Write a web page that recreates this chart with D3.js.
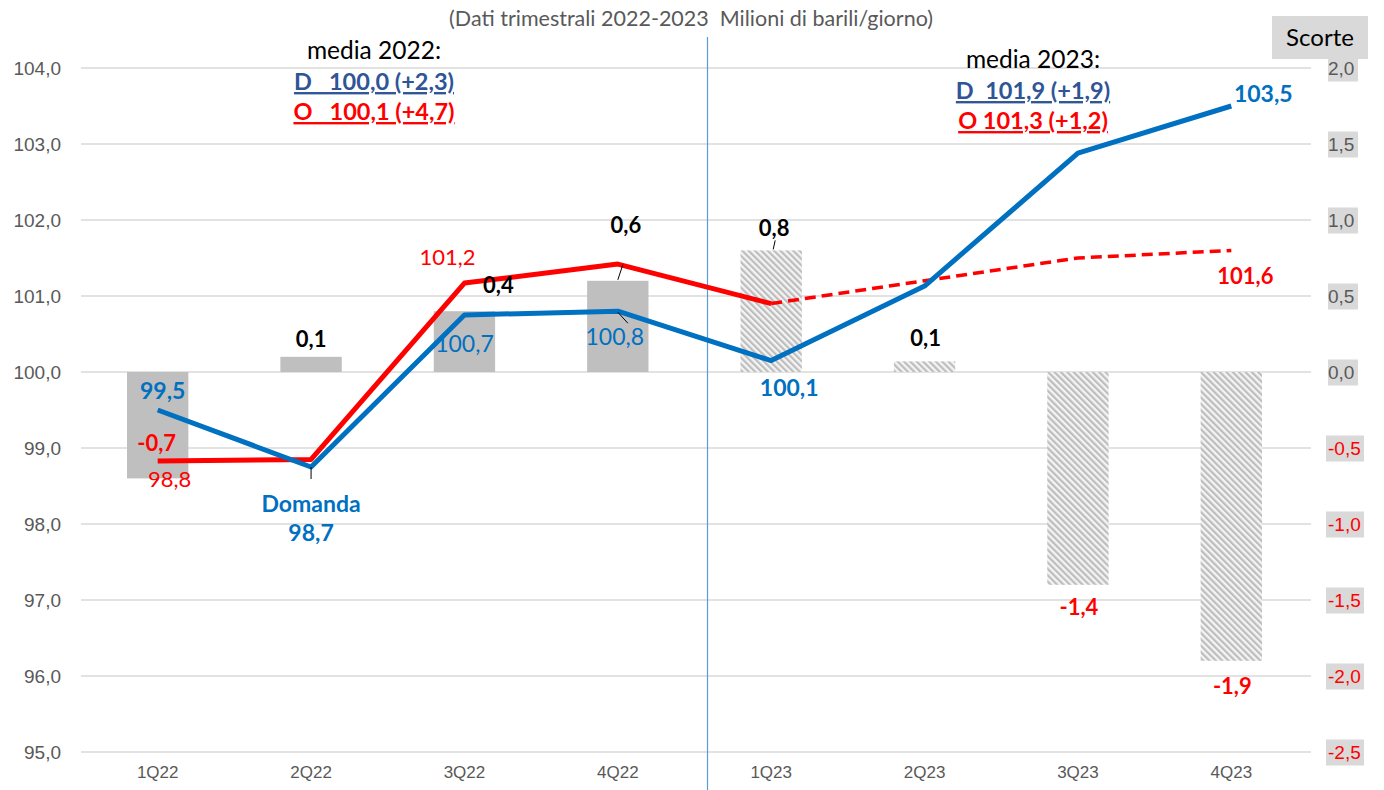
<!DOCTYPE html>
<html>
<head>
<meta charset="utf-8">
<script src="https://cdn.jsdelivr.net/npm/d3@7"></script>
<style>
  body { margin: 0; background: #fff; }
  svg { font-family: Lato, "Open Sans", sans-serif; }
  text { white-space: pre; }
</style>
</head>
<body>
<div id="chart"></div>
<script>
// data
var quarters = ["1Q22", "2Q22", "3Q22", "4Q22", "1Q23", "2Q23", "3Q23", "4Q23"];
var domanda = [99.5, 98.75, 100.75, 100.8, 100.15, 101.13, 102.88, 103.5];
var offerta = [98.83, 98.85, 101.17, 101.42, 100.9, 101.2, 101.5, 101.6];
var scorte = [-0.7, 0.1, 0.4, 0.6, 0.8, 0.07, -1.4, -1.9];
var leftTicks = [95, 96, 97, 98, 99, 100, 101, 102, 103, 104];
var rightTicks = [-2.5, -2.0, -1.5, -1.0, -0.5, 0.0, 0.5, 1.0, 1.5, 2.0];

var W = 1384, H = 790;
var margin = {top: 68, right: 76, bottom: 38, left: 81};
var fmt = d3.format(".1f");
function it(v) { return fmt(v).replace(".", ",").replace("\u2212", "-"); }

var svg = d3.select("#chart").append("svg")
  .attr("width", W).attr("height", H);

// hatch pattern for 2023 bars
var pat = svg.append("defs").append("pattern")
  .attr("id", "hatch")
  .attr("patternUnits", "userSpaceOnUse")
  .attr("width", 4.5).attr("height", 4.5)
  .attr("patternTransform", "rotate(-45)");
pat.append("rect").attr("width", 4.5).attr("height", 4.5).attr("fill", "#f4f4f4");
pat.append("rect").attr("width", 2.2).attr("height", 4.5).attr("fill", "#bdbdbd");

var x = d3.scaleBand()
  .domain(quarters)
  .range([margin.left, W - margin.right])
  .paddingInner(0.6).paddingOuter(0.3);
var xc = d => x(d) + x.bandwidth() / 2;

var y = d3.scaleLinear().domain([95, 104]).range([H - margin.bottom, margin.top]);
var y2 = d3.scaleLinear().domain([-2.5, 2.0]).range([H - margin.bottom, margin.top]);

// gridlines
svg.append("g").selectAll("line").data(leftTicks).join("line")
  .attr("x1", margin.left).attr("x2", W - margin.right + 3)
  .attr("y1", d => y(d)).attr("y2", d => y(d))
  .attr("stroke", "#d9d9d9").attr("stroke-width", 1.5);

// left axis
var gl = svg.append("g")
  .attr("transform", "translate(" + margin.left + ",0)")
  .call(d3.axisLeft(y).tickValues(leftTicks).tickFormat(it).tickSize(0).tickPadding(20));
gl.select(".domain").remove();
gl.selectAll("text").attr("fill", "#595959").style("font-size", "19px");

// right axis
var gr = svg.append("g")
  .attr("transform", "translate(" + (W - margin.right + 18) + ",0)")
  .call(d3.axisRight(y2).tickValues(rightTicks).tickFormat(it).tickSize(0).tickPadding(0));
gr.select(".domain").remove();
gr.selectAll(".tick").each(function (d) {
  var t = d3.select(this);
  t.insert("rect", "text")
    .attr("x", d < 0 ? 0 : 2).attr("y", -13)
    .attr("width", d < 0 ? 38 : 30).attr("height", 26)
    .attr("fill", "#d9d9d9");
  t.select("text")
    .attr("x", 2)
    .attr("fill", d < 0 ? "#ff0000" : "#595959")
    .style("font-size", "19px");
});

// x axis
var gx = svg.append("g")
  .attr("transform", "translate(0," + (H - margin.bottom) + ")")
  .call(d3.axisBottom(x).tickSize(0).tickPadding(14));
gx.select(".domain").remove();
gx.selectAll("text").attr("fill", "#595959").style("font-size", "17px");

// bars (scorte)
svg.append("g").selectAll("rect").data(quarters).join("rect")
  .attr("x", d => x(d))
  .attr("width", x.bandwidth())
  .attr("y", (d, i) => y2(Math.max(0, scorte[i])))
  .attr("height", (d, i) => Math.abs(y2(scorte[i]) - y2(0)))
  .attr("fill", (d, i) => i < 4 ? "#bfbfbf" : "url(#hatch)");

// divider between years
var divX = (xc("4Q22") + xc("1Q23")) / 2 + 13;
svg.append("line")
  .attr("x1", divX).attr("x2", divX)
  .attr("y1", 37).attr("y2", H)
  .attr("stroke", "#5b9bd5").attr("stroke-width", 1.2);

// lines
var line = d3.line().x(d => xc(d.q)).y(d => y(d.v));
var dom = quarters.map((q, i) => ({q: q, v: domanda[i]}));
var off = quarters.map((q, i) => ({q: q, v: offerta[i]}));

svg.append("path").datum(off.slice(0, 5))
  .attr("d", line).attr("fill", "none")
  .attr("stroke", "#ff0000").attr("stroke-width", 5).attr("stroke-linejoin", "round");
svg.append("path").datum(off.slice(4))
  .attr("d", line).attr("fill", "none")
  .attr("stroke", "#ff0000").attr("stroke-width", 3.5).attr("stroke-dasharray", "11,6");
svg.append("path").datum(dom)
  .attr("d", line).attr("fill", "none")
  .attr("stroke", "#0070c0").attr("stroke-width", 5).attr("stroke-linejoin", "round");

// leader lines
function leader(x1, y1, x2, y2c) {
  svg.append("line").attr("x1", x1).attr("y1", y1).attr("x2", x2).attr("y2", y2c)
    .attr("stroke", "#000").attr("stroke-width", 1);
}
leader(xc("2Q22"), y(domanda[1]), xc("2Q22"), y(domanda[1]) + 12);
leader(xc("4Q22"), y(domanda[3]) + 1, xc("4Q22") + 10, y(domanda[3]) + 12);
leader(xc("4Q22"), y2(scorte[3]) - 1, xc("4Q22") + 5, y2(scorte[3]) - 16);
leader(xc("1Q23") + 2, y2(scorte[4]) - 1, xc("1Q23") + 4, y2(scorte[4]) - 10);

// data labels
function label(txt, cx, cy, color, size, bold) {
  svg.append("text")
    .attr("x", cx).attr("y", cy)
    .attr("text-anchor", "middle").attr("dominant-baseline", "middle")
    .attr("fill", color).style("font-size", size + "px")
    .style("font-weight", bold ? "bold" : "normal")
    .text(txt);
}
var blue = "#0070c0", red = "#ff0000";
// domanda
label(it(domanda[0]), xc("1Q22") + 5, 393, blue, 23, true);
label("Domanda", xc("2Q22"), 506, blue, 23, true);
label(it(98.7), xc("2Q22"), 535, blue, 23, true);
label(it(100.7), xc("3Q22"), 346, blue, 23, false);
label(it(domanda[3]), xc("4Q22") - 3, 339, blue, 23, false);
label(it(100.1), xc("1Q23") + 18, 390, blue, 23, true);
label(it(domanda[7]), xc("4Q23") + 32, 96, blue, 23, true);
// offerta
label(it(98.8), xc("1Q22") + 12, 481, red, 22, false);
label(it(101.2), xc("3Q22") - 17, 259, red, 22, false);
label(it(offerta[7]), xc("4Q23") + 14, 278, red, 22, true);
// scorte
label(it(scorte[0]), xc("1Q22") - 1, 445, red, 22, true);
label(it(scorte[1]), xc("2Q22"), 341, "#000", 22, true);
label(it(scorte[2]), xc("3Q22") + 34, 287, "#000", 22, true);
label(it(scorte[3]), xc("4Q22") + 8, 227, "#000", 22, true);
label(it(scorte[4]), xc("1Q23") + 3, 230, "#000", 22, true);
label(it(0.1), xc("2Q23") + 1, 340, "#000", 22, true);
label(it(scorte[6]), xc("3Q23") + 1, 609, red, 22, true);
label(it(scorte[7]), xc("4Q23") + 1, 688, red, 22, true);

// title
svg.append("text")
  .attr("x", 691).attr("y", 21)
  .attr("text-anchor", "middle").attr("dominant-baseline", "middle")
  .attr("fill", "#595959").style("font-size", "21.5px")
  .text("(Dati trimestrali 2022-2023  Milioni di barili/giorno)");

// Scorte box
svg.append("rect").attr("x", 1272).attr("y", 16).attr("width", 96).attr("height", 43).attr("fill", "#d9d9d9");
svg.append("text").attr("x", 1320).attr("y", 40)
  .attr("text-anchor", "middle").attr("dominant-baseline", "middle")
  .attr("fill", "#000").style("font-size", "24px").text("Scorte");

// annual averages
function avgBlock(cx, top, lines) {
  svg.append("text").attr("x", cx).attr("y", top)
    .attr("text-anchor", "middle").attr("dominant-baseline", "middle")
    .attr("fill", "#000").style("font-size", "24.5px").text(lines[0]);
  svg.append("text").attr("x", cx).attr("y", top + 31)
    .attr("text-anchor", "middle").attr("dominant-baseline", "middle")
    .attr("fill", "#2f5597").style("font-size", "23.5px").style("font-weight", "bold")
    .style("text-decoration", "underline").text(lines[1]);
  svg.append("text").attr("x", cx).attr("y", top + 61)
    .attr("text-anchor", "middle").attr("dominant-baseline", "middle")
    .attr("fill", "#ff0000").style("font-size", "23.5px").style("font-weight", "bold")
    .style("text-decoration", "underline").text(lines[2]);
}
avgBlock(374, 53, ["media 2022:", "D   100,0 (+2,3)", "O   100,1 (+4,7)"]);
avgBlock(1033, 62, ["media 2023:", "D  101,9 (+1,9)", "O 101,3 (+1,2)"]);
</script>
</body>
</html>
